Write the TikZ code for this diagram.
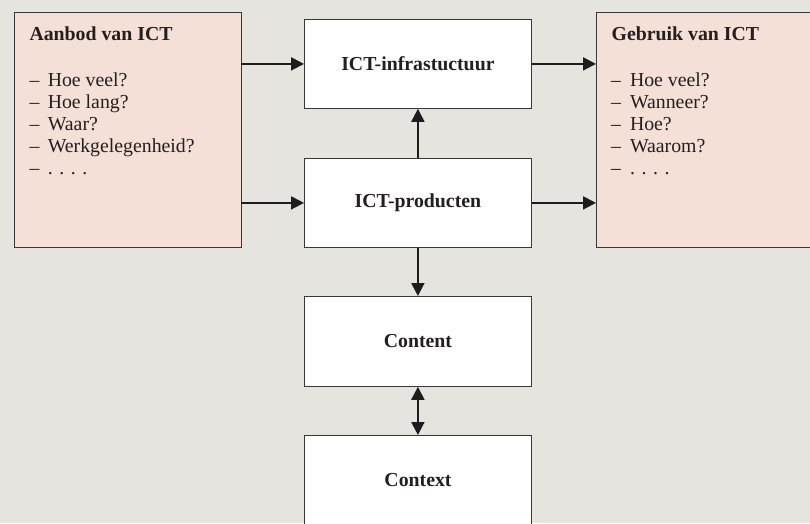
\documentclass[tikz,border=0pt]{standalone}
\usepackage{fontspec}
\setmainfont{Liberation Serif}
\usetikzlibrary{arrows.meta}
\definecolor{bg}{RGB}{229,228,223}
\definecolor{pinkbox}{RGB}{244,224,215}
\definecolor{edgec}{RGB}{55,55,55}
\definecolor{arrowc}{RGB}{30,28,28}
\definecolor{txt}{RGB}{35,31,32}
\begin{document}
\begin{tikzpicture}[x=1pt,y=-1pt,
  box/.style={draw=edgec, line width=0.8pt, fill=white, inner sep=0pt, anchor=north west, text=txt,
    font=\fontsize{19.8}{22}\selectfont\bfseries},
  sidebox/.style={draw=edgec, line width=0.8pt, fill=pinkbox, inner sep=0pt, anchor=north west},
  arr/.style={line width=1.9pt, draw=arrowc, -{Triangle[length=13pt,width=13pt]}},
  dbl/.style={line width=1.9pt, draw=arrowc, {Triangle[length=13pt,width=13pt]}-{Triangle[length=13pt,width=13pt]}},
  heading/.style={anchor=base west, inner sep=0pt, text=txt, font=\fontsize{19.8}{22}\selectfont\bfseries},
  item/.style={anchor=base west, inner sep=0pt, text=txt, font=\fontsize{19.8}{22}\selectfont}]
\path[use as bounding box] (0,0) rectangle (810,523);
\fill[bg] (0,0) rectangle (810,523);
\clip (0,0) rectangle (810,523);

% side boxes
\node[sidebox, minimum width=227pt, minimum height=234.8pt] (aanbod) at (13.5,11.7) {};
\node[sidebox, minimum width=230pt, minimum height=234.8pt] (gebruik) at (596,11.7) {};

% centre boxes
\node[box, minimum width=227pt, minimum height=89pt] (infra) at (304,19) {ICT-infrastuctuur};
\node[box, minimum width=227pt, minimum height=89pt] (prod) at (304,158) {ICT-producten};
\node[box, minimum width=227pt, minimum height=90pt] (content) at (304,296) {Content};
\node[box, minimum width=227pt, minimum height=180pt] (context) at (304,435) {};
\node[heading, anchor=base] (contextlbl) at (418,486.5) {Context};

% left texts
\node[heading] (aanbodtitle) at (29.3,40.7) {Aanbod van ICT};
\foreach \t [count=\i] in {Hoe veel?, Hoe lang?, Waar?, Werkgelegenheid?, {. . . .}}
  \node[item] (a\i) at (29.3,{86.7+22*(\i-1)}) {\makebox[18.3pt][l]{--}\t};

% right texts
\node[heading] (gebruiktitle) at (611.5,40.7) {Gebruik van ICT};
\foreach \t [count=\i] in {Hoe veel?, Wanneer?, Hoe?, Waarom?, {. . . .}}
  \node[item] (g\i) at (611,{86.7+22*(\i-1)}) {\makebox[18.8pt][l]{--}\t};

% connectors
\draw[arr] (infra.west -| aanbod.east) -- (infra.west);
\draw[arr] (prod.west -| aanbod.east) -- (prod.west);
\draw[arr] (infra.east) -- (infra.east -| gebruik.west);
\draw[arr] (prod.east) -- (prod.east -| gebruik.west);
\draw[arr] (prod.north) -- (infra.south);
\draw[arr] (prod.south) -- (content.north);
\draw[dbl] (content.south) -- (context.north);
\end{tikzpicture}
\end{document}
